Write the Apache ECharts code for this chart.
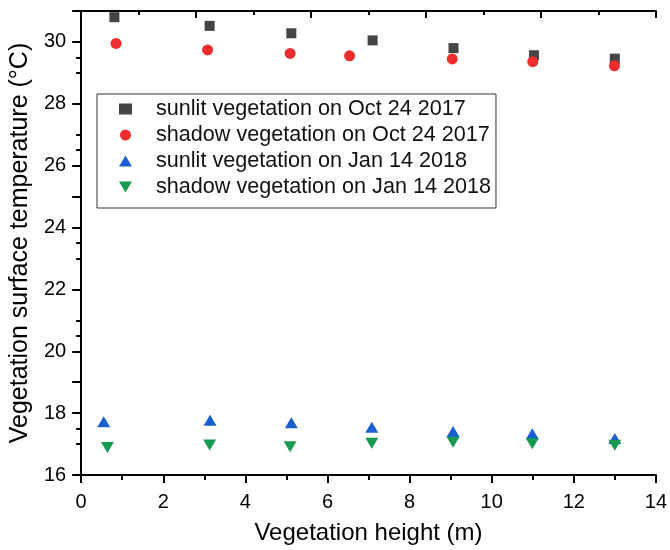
<!DOCTYPE html>
<html>
<head>
<meta charset="utf-8">
<title>Vegetation surface temperature</title>
<script src="https://cdn.jsdelivr.net/npm/echarts@6/dist/echarts.min.js"></script>
<style>
  html, body { margin: 0; padding: 0; background: #fff; }
  #chart { width: 670px; height: 550px; }
</style>
</head>
<body>
<div id="chart"></div>
<script>
// values
const sunlitOctX = [0.81, 3.13, 5.12, 7.10, 9.07, 11.03, 13.0]
const sunlitOctY = [30.80, 30.52, 30.28, 30.05, 29.80, 29.57, 29.46]
const shadowOctX = [0.85, 3.08, 5.09, 6.54, 9.04, 11.0, 12.99]
const shadowOctY = [29.95, 29.74, 29.63, 29.55, 29.45, 29.36, 29.23]
const sunlitJanX = [0.55, 3.14, 5.12, 7.08, 9.06, 10.99, 13.0]
const sunlitJanY = [17.72, 17.77, 17.69, 17.54, 17.41, 17.33, 17.18]
const shadowJanX = [0.64, 3.13, 5.09, 7.08, 9.06, 10.99, 13.0]
const shadowJanY = [16.89, 16.97, 16.91, 17.03, 17.06, 17.01, 16.96]

const yMajorTicks = [16, 18, 20, 22, 24, 26, 28, 30]
const yMinorTicks = [17, 19, 21, 23, 25, 27, 29]

const font = 'Liberation Sans'
const black = '#000'

function pairs(xs, ys) {
  return xs.map((x, i) => [x, ys[i]])
}

const chart = echarts.init(document.getElementById('chart'))

chart.setOption({
  backgroundColor: '#fff',
  animation: false,
  grid: {
    left: 78,
    right: 12,
    top: 11,
    bottom: 73
  },
  legend: {
    orient: 'vertical',
    left: 97,
    top: 94,
    padding: [4, 5, 10, 22],
    itemGap: 4,
    itemWidth: 13,
    itemHeight: 11,
    symbolKeepAspect: true,
    borderColor: '#333',
    borderWidth: 1,
    textStyle: { fontFamily: font, fontSize: 21.6, color: '#111', padding: [0, 0, 0, 19] },
    data: [
      { name: 'sunlit vegetation on Oct 24 2017', icon: 'rect', itemStyle: { color: '#444444' } },
      { name: 'shadow vegetation on Oct 24 2017', icon: 'circle' },
      { name: 'sunlit vegetation on Jan 14 2018', icon: 'triangle' },
      { name: 'shadow vegetation on Jan 14 2018', icon: 'path://M0,0L13,0L6.5,11Z' }
    ]
  },
  xAxis: [
    {
      type: 'value',
      position: 'bottom',
      min: 0,
      max: 14,
      interval: 2,
      name: 'Vegetation height (m)',
      nameLocation: 'middle',
      nameGap: 46,
      nameTextStyle: { fontFamily: font, fontSize: 24, color: black },
      axisLine: { lineStyle: { color: black, width: 2 } },
      axisTick: { length: 8, lineStyle: { color: black, width: 2 } },
      minorTick: { show: true, splitNumber: 2, length: 5, lineStyle: { color: black, width: 2 } },
      axisLabel: { margin: 17, fontFamily: font, fontSize: 20, color: black },
      splitLine: { show: false }
    },
    {
      // mirrored top frame
      type: 'value',
      position: 'top',
      min: 0,
      max: 5,
      interval: 1,
      axisLine: { lineStyle: { color: black, width: 2 } },
      axisTick: { inside: true, length: 7, lineStyle: { color: black, width: 2 } },
      minorTick: { show: true, splitNumber: 2, length: 4, lineStyle: { color: black, width: 2 } },
      axisLabel: { show: false },
      splitLine: { show: false }
    }
  ],
  yAxis: [
    {
      type: 'value',
      position: 'left',
      min: 16,
      max: 31,
      interval: 1,
      name: 'Vegetation surface temperature (°C)',
      nameLocation: 'middle',
      nameGap: 40,
      nameTextStyle: { fontFamily: font, fontSize: 25, color: black },
      axisLine: { lineStyle: { color: black, width: 2 } },
      axisTick: { customValues: yMajorTicks, length: 9, lineStyle: { color: black, width: 2 } },
      axisLabel: { customValues: yMajorTicks, margin: 15, fontFamily: font, fontSize: 20, color: black },
      splitLine: { show: false }
    },
    {
      // mirrored right frame
      type: 'value',
      position: 'right',
      min: 0,
      max: 5,
      interval: 1,
      axisLine: { lineStyle: { color: black, width: 2 } },
      axisTick: { inside: true, length: 9, lineStyle: { color: black, width: 2 } },
      minorTick: { show: true, splitNumber: 2, length: 5, lineStyle: { color: black, width: 2 } },
      axisLabel: { show: false },
      splitLine: { show: false }
    },
    {
      // minor ticks on the left axis
      type: 'value',
      position: 'left',
      min: 16,
      max: 31,
      interval: 1,
      axisLine: { show: false },
      axisTick: { customValues: yMinorTicks, length: 5, lineStyle: { color: black, width: 2 } },
      axisLabel: { show: false },
      splitLine: { show: false }
    }
  ],
  series: [
    {
      name: 'sunlit vegetation on Oct 24 2017',
      type: 'scatter',
      symbol: 'rect',
      symbolSize: 10,
      itemStyle: { color: '#444444', opacity: 1 },
      data: pairs(sunlitOctX, sunlitOctY)
    },
    {
      name: 'shadow vegetation on Oct 24 2017',
      type: 'scatter',
      symbol: 'circle',
      symbolSize: 11,
      itemStyle: { color: '#EE2E2E', opacity: 1 },
      data: pairs(shadowOctX, shadowOctY)
    },
    {
      name: 'sunlit vegetation on Jan 14 2018',
      type: 'scatter',
      symbol: 'triangle',
      symbolSize: [13, 11],
      itemStyle: { color: '#1A5FD0', opacity: 1 },
      data: pairs(sunlitJanX, sunlitJanY)
    },
    {
      name: 'shadow vegetation on Jan 14 2018',
      type: 'scatter',
      symbol: 'triangle',
      symbolRotate: 180,
      symbolSize: [13, 11],
      itemStyle: { color: '#179A50', opacity: 1 },
      data: pairs(shadowJanX, shadowJanY)
    }
  ]
})
</script>
</body>
</html>
